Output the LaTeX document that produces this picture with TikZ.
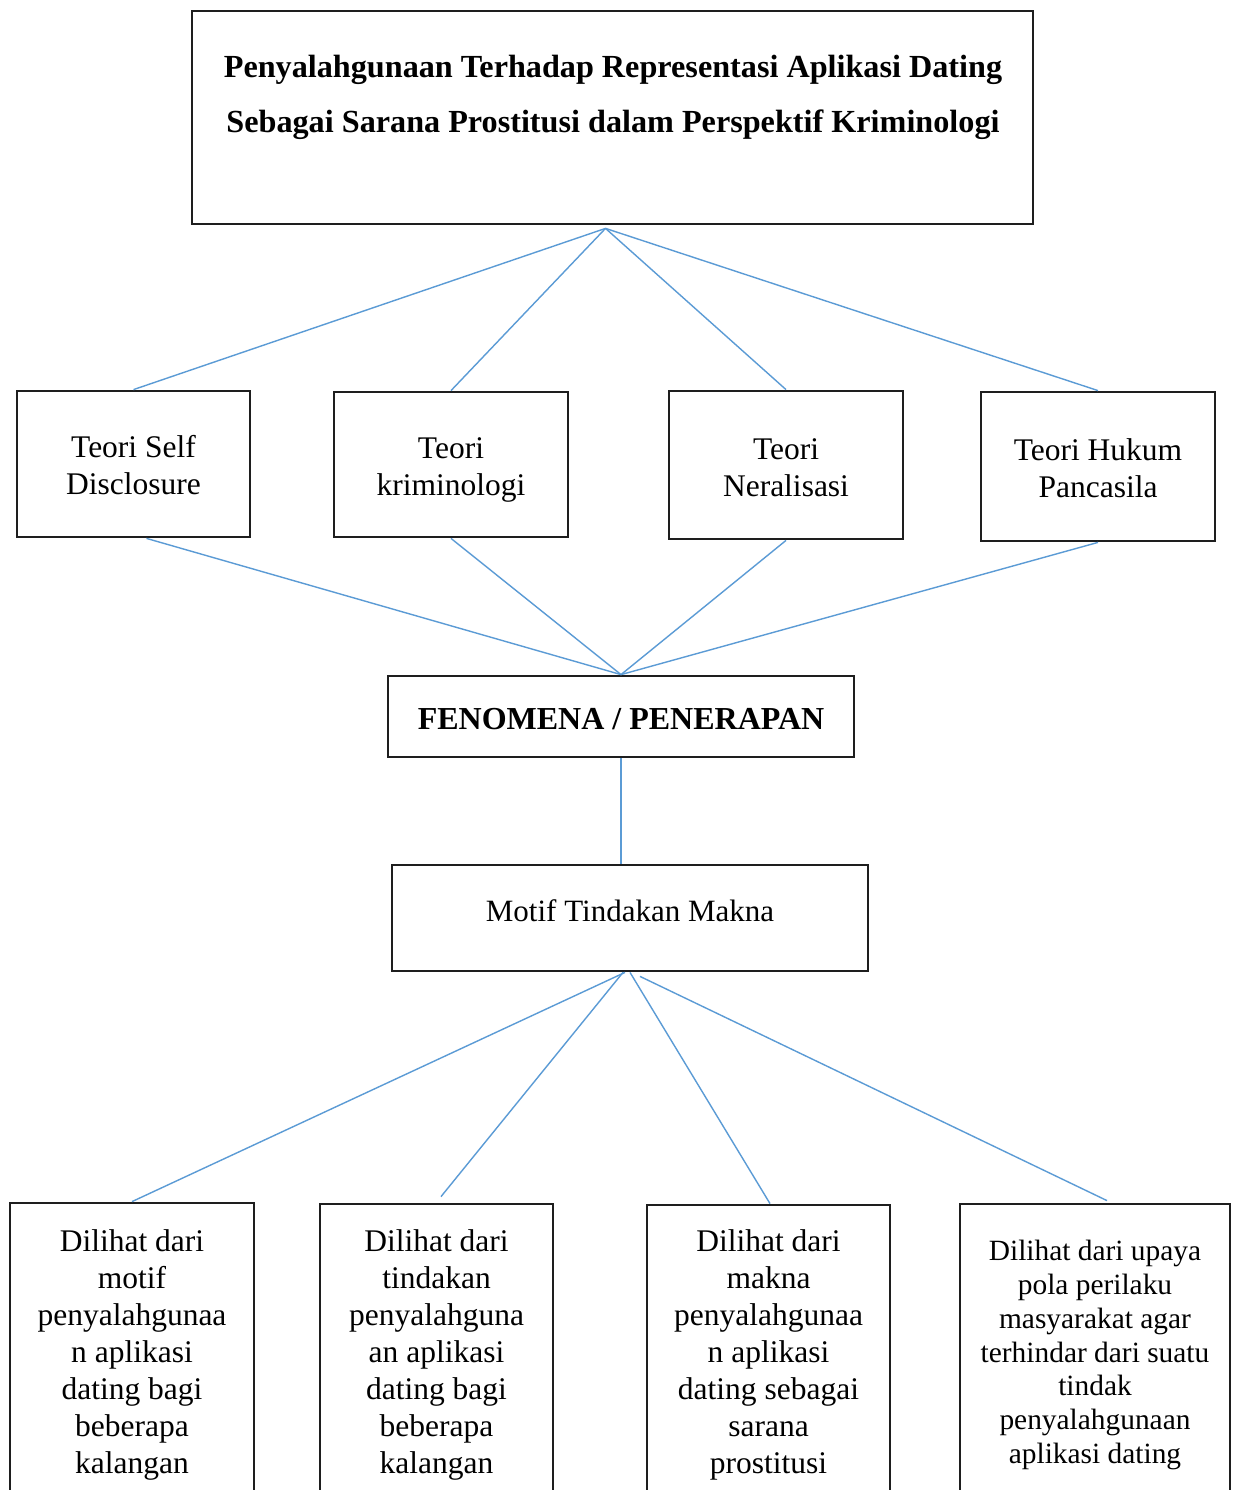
\documentclass[tikz,border=0pt]{standalone}
\usepackage{fontspec}
\setmainfont{Liberation Serif}
\definecolor{linkblue}{RGB}{91,155,213}
\definecolor{boxline}{RGB}{30,30,30}
\begin{document}
\begin{tikzpicture}[x=1pt,y=-1pt,
  box/.style={draw=boxline, line width=2.8pt, inner sep=0pt},
  txt/.style={inner sep=0pt, align=center, font=\fontsize{31.5}{37}\selectfont},
  conn/.style={draw=linkblue, line width=1.4pt}]
\useasboundingbox (0,0) rectangle (1238,1490);
\clip (0,0) rectangle (1238,1490);
\fill[white] (0,0) rectangle (1238,1490);
% top
\node[box, minimum width=841pt, minimum height=213pt] (top) at (612.5,117.5) {};
\node[txt, font=\bfseries\fontsize{32.2}{55}\selectfont] (title) at (613,97)
  {Penyalahgunaan Terhadap Representasi Aplikasi Dating\\Sebagai Sarana Prostitusi dalam Perspektif Kriminologi};
% theories
\node[box, minimum width=233pt, minimum height=146pt] (t1) at (133.5,464) {};
\node[box, minimum width=234pt, minimum height=145pt] (t2) at (451,464.5) {};
\node[box, minimum width=234pt, minimum height=148pt] (t3) at (786,465) {};
\node[box, minimum width=234pt, minimum height=149pt] (t4) at (1098,466.5) {};
\node[txt] (t1t) at (133.5,465.5) {Teori Self\\Disclosure};
\node[txt] (t2t) at (451,470) {Teori\\kriminologi};
\node[txt] (t3t) at (786,468) {Teori\\Neralisasi};
\node[txt] (t4t) at (1098,468) {Teori Hukum\\Pancasila};
% fenomena
\node[box, minimum width=466pt, minimum height=81pt] (f) at (621,716.5) {};
\node[txt, font=\bfseries\fontsize{32}{37}\selectfont] (ft) at (621,719) {FENOMENA / PENERAPAN};
% motif
\node[box, minimum width=476pt, minimum height=106pt] (m) at (630,918) {};
\node[txt, font=\fontsize{31}{37}\selectfont] (mt) at (630,911) {Motif Tindakan Makna};
% bottom boxes
\node[box, minimum width=244pt, minimum height=400pt] (b1) at (132,1403) {};
\node[box, minimum width=233pt, minimum height=400pt] (b2) at (436.5,1404) {};
\node[box, minimum width=243pt, minimum height=400pt] (b3) at (768.5,1405) {};
\node[box, minimum width=270pt, minimum height=400pt] (b4) at (1095,1404) {};
\node[txt] (b1t) at (132,1355) {Dilihat dari\\motif\\penyalahgunaa\\n aplikasi\\dating bagi\\beberapa\\kalangan};
\node[txt] (b2t) at (436.5,1355) {Dilihat dari\\tindakan\\penyalahguna\\an aplikasi\\dating bagi\\beberapa\\kalangan};
\node[txt] (b3t) at (768.5,1355) {Dilihat dari\\makna\\penyalahgunaa\\n aplikasi\\dating sebagai\\sarana\\prostitusi};
\node[txt, font=\fontsize{29.4}{33.7}\selectfont] (b4t) at (1095,1355) {Dilihat dari upaya\\pola perilaku\\masyarakat agar\\terhindar dari suatu\\tindak\\penyalahgunaan\\aplikasi dating};
% connectors
\draw[conn] ([xshift=-7pt,yshift=-3pt]top.south) -- (t1.north);
\draw[conn] ([xshift=-7pt,yshift=-3pt]top.south) -- (t2.north);
\draw[conn] ([xshift=-7pt,yshift=-3pt]top.south) -- (t3.north);
\draw[conn] ([xshift=-7pt,yshift=-3pt]top.south) -- (t4.north);
\draw[conn] ([xshift=13pt]t1.south) -- (f.north);
\draw[conn] (t2.south) -- (f.north);
\draw[conn] (t3.south) -- (f.north);
\draw[conn] (t4.south) -- (f.north);
\draw[conn] (f.south) -- (f.south |- m.north);
\draw[conn] ([xshift=-5pt]m.south) -- (b1.north);
\draw[conn] ([xshift=-7pt]m.south) -- ([xshift=4.5pt,yshift=6pt]b2.north);
\draw[conn] (m.south) -- ([xshift=1.5pt]b3.north);
\draw[conn] ([xshift=10pt,yshift=-4pt]m.south) -- ([xshift=12pt,yshift=2pt]b4.north);
\end{tikzpicture}
\end{document}
